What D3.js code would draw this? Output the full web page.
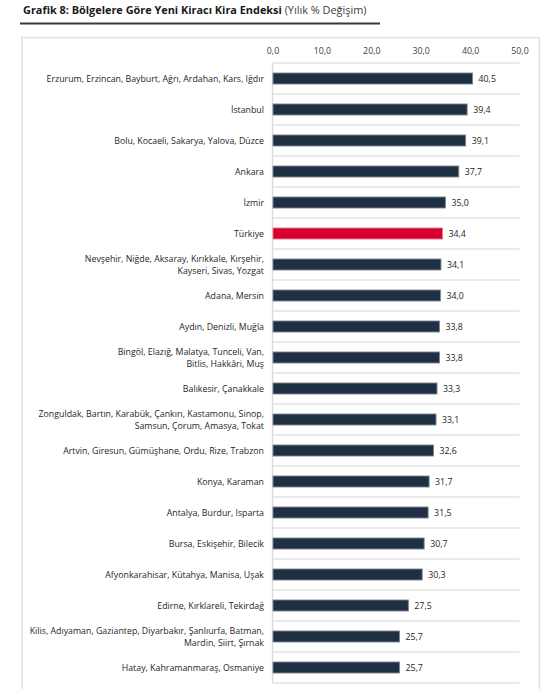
<!DOCTYPE html>
<html><head><meta charset="utf-8">
<script src="https://cdn.jsdelivr.net/npm/d3@7"></script>
<style>
html,body{margin:0;padding:0;background:#fff;}
svg{display:block;font-family:"Open Sans",sans-serif;}
</style></head>
<body><svg id="c" width="558" height="689"></svg>
<script>
const titleBold = "Grafik 8: Bölgelere Göre Yeni Kiracı Kira Endeksi";
const titleNormal = " (Yılık % Değişim)";
const categories = [
  "Erzurum, Erzincan, Bayburt, Ağrı, Ardahan, Kars, Iğdır",
  "İstanbul",
  "Bolu, Kocaeli, Sakarya, Yalova, Düzce",
  "Ankara",
  "İzmir",
  "Türkiye",
  "Nevşehir, Niğde, Aksaray, Kırıkkale, Kırşehir,\nKayseri, Sivas, Yozgat",
  "Adana, Mersin",
  "Aydın, Denizli, Muğla",
  "Bingöl, Elazığ, Malatya, Tunceli, Van,\nBitlis, Hakkâri, Muş",
  "Balıkesir, Çanakkale",
  "Zonguldak, Bartın, Karabük, Çankırı, Kastamonu, Sinop,\nSamsun, Çorum, Amasya, Tokat",
  "Artvin, Giresun, Gümüşhane, Ordu, Rize, Trabzon",
  "Konya, Karaman",
  "Antalya, Burdur, Isparta",
  "Bursa, Eskişehir, Bilecik",
  "Afyonkarahisar, Kütahya, Manisa, Uşak",
  "Edirne, Kırklareli, Tekirdağ",
  "Kilis, Adıyaman, Gaziantep, Diyarbakır, Şanlıurfa, Batman,\nMardin, Siirt, Şırnak",
  "Hatay, Kahramanmaraş, Osmaniye"
];
const values = [40.5, 39.4, 39.1, 37.7, 35.0, 34.4, 34.1, 34.0, 33.8, 33.8, 33.3, 33.1, 32.6, 31.7, 31.5, 30.7, 30.3, 27.5, 25.7, 25.7];
const highlight = "Türkiye";
const tickValues = [0, 10, 20, 30, 40, 50];

const fmt = v => v.toFixed(1).replace(".", ",");
const data = categories.map((c, i) => ({c, v: values[i]}));

const svg = d3.select("#c");

// title
const t = svg.append("text").attr("x", 23).attr("y", 14)
  .attr("font-size", 10.9).attr("fill", "#1a1a1a");
t.append("tspan").attr("font-weight", "bold").text(titleBold);
t.append("tspan").attr("fill", "#404040").text(titleNormal);
svg.append("line").attr("x1", 20).attr("x2", 380).attr("y1", 23.5).attr("y2", 23.5)
  .attr("stroke", "#3a3a3a").attr("stroke-width", 1.8);

// frame
svg.append("rect").attr("x", 22).attr("y", 37.5).attr("width", 517.5).attr("height", 700)
  .attr("fill", "none").attr("stroke", "#e2e2e2").attr("stroke-width", 1.5);

const x = d3.scaleLinear().domain([0, 50]).range([272.5, 519.5]);
const y = d3.scaleBand().domain(categories).range([63, 683]).paddingInner(0.645).paddingOuter(0.3225);

// separators
const seps = d3.range(categories.length + 1).map(i => 63 + i * y.step());
svg.append("g").selectAll("line").data(seps).join("line")
  .attr("x1", x(0)).attr("x2", x(50)).attr("y1", d => d).attr("y2", d => d)
  .attr("stroke", "#e3e3e3").attr("stroke-width", 1.4);
svg.append("line").attr("x1", x(0)).attr("x2", x(0)).attr("y1", 63).attr("y2", 683)
  .attr("stroke", "#dcdcdc").attr("stroke-width", 1.4);

// top axis
const ax = svg.append("g").attr("transform", "translate(0,54)")
  .call(d3.axisTop(x).tickValues(tickValues).tickSize(0).tickPadding(0).tickFormat(fmt));
ax.select(".domain").remove();
ax.selectAll("text").attr("font-family", "Open Sans, sans-serif").attr("font-size", 8.8).attr("fill", "#404040");

// bars
svg.append("g").selectAll("rect").data(data).join("rect")
  .attr("x", x(0) + 0.5).attr("y", d => y(d.c))
  .attr("width", d => x(d.v) - x(0) - 0.5).attr("height", y.bandwidth())
  .attr("fill", d => d.c === highlight ? "#d5002f" : "#1f3044")
  .attr("stroke", d => d.c === highlight ? "#e8788a" : "#7d8690")
  .attr("stroke-width", 0.9);

// value labels
svg.append("g").selectAll("text").data(data).join("text")
  .attr("x", d => x(d.v) + 6).attr("y", d => y(d.c) + y.bandwidth() / 2)
  .attr("dy", "0.35em").attr("font-size", 8.8).attr("fill", "#262626")
  .text(d => fmt(d.v));

// category labels
const lab = svg.append("g").selectAll("text").data(data).join("text")
  .attr("x", 264).attr("text-anchor", "end").attr("font-size", 8.8).attr("fill", "#262626")
  .attr("y", d => {
    const n = d.c.split("\n").length;
    return y(d.c) + y.bandwidth() / 2 - (n - 1) * 6;
  })
  .attr("dy", "0.35em");
lab.each(function(d) {
  const el = d3.select(this);
  d.c.split("\n").forEach((line, i) => {
    el.append("tspan").attr("x", 264).attr("dy", i === 0 ? "0.35em" : 12).text(line);
  });
});
</script></body></html>
